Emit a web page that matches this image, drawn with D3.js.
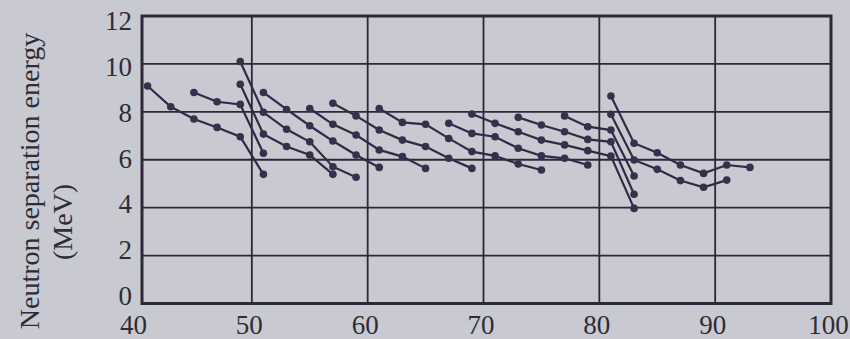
<!DOCTYPE html>
<html>
<head>
	<title>Neutron separation energy</title>
	<style type="text/css">
		body {
			margin: 0;
			background: #c8c9d1;
		}
		svg {
			display: block;
		}
		.tick text {
			font-family: "Liberation Serif", "Times New Roman", serif;
			font-size: 27px;
			fill: #2e2c36;
		}
		.tick line {
			display: none;
		}
		.axis path {
			display: none;
		}
	</style>
	<script src="https://d3js.org/d3.v7.min.js"></script>
</head>
<body>
<div class="container"></div>
<script type="text/javascript">
	// odd-N isotope chains, [neutron number, separation energy in MeV]
	var kr = [[41, 9.08], [43, 8.21], [45, 7.70], [47, 7.35], [49, 6.96], [51, 5.39]];
	var sr = [[45, 8.81], [47, 8.42], [49, 8.31], [51, 6.27]];
	var zr = [[49, 9.15], [51, 7.07], [53, 6.55], [55, 6.20], [57, 5.39]];
	var mo = [[49, 10.1], [51, 7.98], [53, 7.27], [55, 6.75], [57, 5.71], [59, 5.27]];
	var ru = [[51, 8.81], [53, 8.10], [55, 7.42], [57, 6.78], [59, 6.20], [61, 5.68]];
	var pd = [[55, 8.14], [57, 7.48], [59, 7.03], [61, 6.41], [63, 6.13], [65, 5.64]];
	var cd = [[57, 8.36], [59, 7.83], [61, 7.24], [63, 6.82], [65, 6.55], [67, 6.06], [69, 5.64]];
	var sn = [[61, 8.14], [63, 7.56], [65, 7.48], [67, 6.89], [69, 6.34], [71, 6.16], [73, 5.82], [75, 5.57]];
	var te = [[67, 7.52], [69, 7.10], [71, 6.96], [73, 6.48], [75, 6.16], [77, 6.06], [79, 5.78]];
	var xe = [[69, 7.91], [71, 7.52], [73, 7.17], [75, 6.82], [77, 6.62], [79, 6.38], [81, 6.15], [83, 3.97]];
	var ba = [[73, 7.77], [75, 7.45], [77, 7.17], [79, 6.85], [81, 6.75], [83, 4.56]];
	var ce = [[77, 7.83], [79, 7.38], [81, 7.24], [83, 5.32]];
	var nd = [[81, 7.90], [83, 5.99], [85, 5.60], [87, 5.13], [89, 4.85], [91, 5.15]];
	var sm = [[81, 8.66], [83, 6.69], [85, 6.29], [87, 5.78], [89, 5.43], [91, 5.78], [93, 5.68]];

	var chains = [kr, sr, zr, mo, ru, pd, cd, sn, te, xe, ba, ce, nd, sm];

	var xTicks = [40, 50, 60, 70, 80, 90, 100];
	var yTicks = [0, 2, 4, 6, 8, 10, 12];

	var svg = d3.select(".container").append("svg")
		.attr("width", 850)
		.attr("height", 339);

	var x = d3.scaleLinear().domain([40, 100]).range([136, 831]),
		y = d3.scaleLinear().domain([0, 12]).range([303.5, 16]);

	// the printed labels sit a little inside the grid ends
	var yLabel = y.copy().range([296, 21]);

	var frameLeft = 142;
	var ink = "#2b2838";
	var serif = "'Liberation Serif', 'Times New Roman', serif";

	// grid
	svg.append("g")
		.selectAll("line")
		.data(xTicks.slice(1, -1))
		.enter().append("line")
			.attr("x1", function(d) { return x(d); })
			.attr("x2", function(d) { return x(d); })
			.attr("y1", y(12))
			.attr("y2", y(0))
			.attr("stroke", ink)
			.attr("stroke-width", 1.8);

	svg.append("g")
		.selectAll("line")
		.data(yTicks.slice(1, -1))
		.enter().append("line")
			.attr("x1", frameLeft)
			.attr("x2", x(100))
			.attr("y1", function(d) { return y(d); })
			.attr("y2", function(d) { return y(d); })
			.attr("stroke", ink)
			.attr("stroke-width", 1.8);

	svg.append("rect")
		.attr("x", frameLeft)
		.attr("y", y(12))
		.attr("width", x(100) - frameLeft)
		.attr("height", y(0) - y(12))
		.attr("fill", "none")
		.attr("stroke", ink)
		.attr("stroke-width", 3);

	// axes
	svg.append("g")
		.attr("class", "axis")
		.attr("transform", "translate(-3," + (y(0) + 10) + ")")
		.call(d3.axisBottom(x).tickValues(xTicks).tickSize(0).tickPadding(1));

	svg.append("g")
		.attr("class", "axis")
		.attr("transform", "translate(" + (frameLeft - 10) + ",0)")
		.call(d3.axisLeft(yLabel).tickValues(yTicks).tickSize(0).tickPadding(0));

	svg.append("text")
		.attr("transform", "translate(39,181) rotate(-90)")
		.attr("text-anchor", "middle")
		.style("font-family", serif)
		.style("font-size", "28px")
		.attr("fill", "#2e2c36")
		.text("Neutron separation energy");

	svg.append("text")
		.attr("transform", "translate(72,222) rotate(-90)")
		.attr("text-anchor", "middle")
		.style("font-family", serif)
		.style("font-size", "28px")
		.attr("fill", "#2e2c36")
		.text("(MeV)");

	// chains
	var line = d3.line()
		.x(function(d) { return x(d[0]); })
		.y(function(d) { return y(d[1]); });

	svg.append("g")
		.selectAll("path")
		.data(chains)
		.enter().append("path")
			.attr("d", line)
			.attr("fill", "none")
			.attr("stroke", "#2f2b45")
			.attr("stroke-width", 2.2);

	svg.append("g")
		.selectAll("circle")
		.data(d3.merge(chains))
		.enter().append("circle")
			.attr("cx", function(d) { return x(d[0]); })
			.attr("cy", function(d) { return y(d[1]); })
			.attr("r", 3.8)
			.attr("fill", "#35304c");
</script>
</body>
</html>
